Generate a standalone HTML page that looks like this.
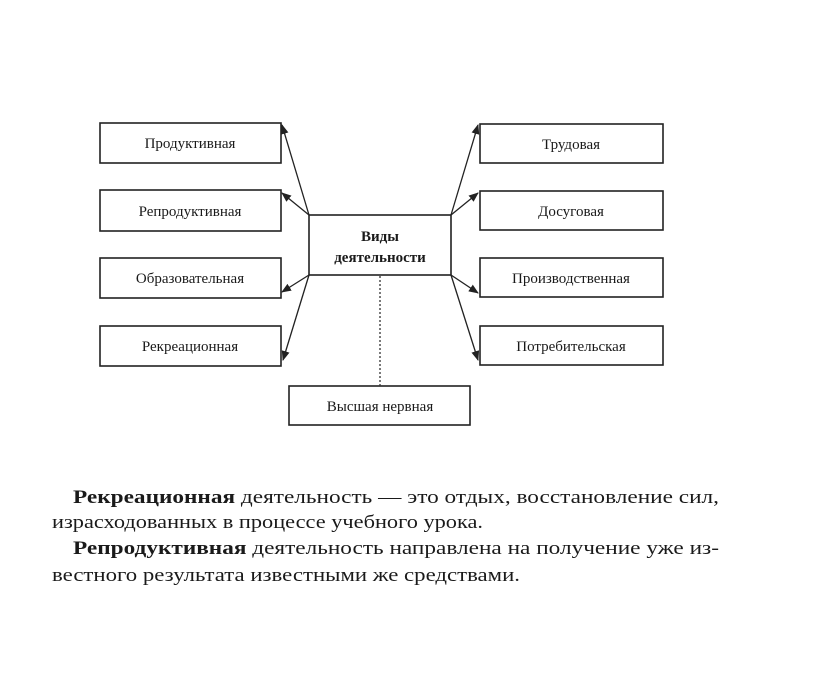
<!DOCTYPE html>
<html><head><meta charset="utf-8"><style>
html,body{margin:0;padding:0;background:#fff;}
svg{display:block}
text{font-family:"Liberation Serif",serif;fill:#1a1a1a}
</style></head><body>
<svg width="816" height="676" viewBox="0 0 816 676" xmlns="http://www.w3.org/2000/svg">
<defs><marker id="a" markerWidth="10" markerHeight="8" refX="9" refY="4" orient="auto" markerUnits="userSpaceOnUse"><path d="M0,0 L10,4 L0,8 Z" fill="#222"/></marker></defs>
<g fill="#fff" stroke="#222" stroke-width="1.6">
<rect x="100" y="123" width="181" height="40"/>
<rect x="100" y="190" width="181" height="41"/>
<rect x="100" y="258" width="181" height="40"/>
<rect x="100" y="326" width="181" height="40"/>
<rect x="480" y="124" width="183" height="39"/>
<rect x="480" y="191" width="183" height="39"/>
<rect x="480" y="258" width="183" height="39"/>
<rect x="480" y="326" width="183" height="39"/>
<rect x="309" y="215" width="142" height="60"/>
<rect x="289" y="386" width="181" height="39"/>
</g>
<g stroke="#222" stroke-width="1.3" fill="none" marker-end="url(#a)">
<line x1="309" y1="215" x2="282" y2="125"/>
<line x1="309" y1="215" x2="282" y2="193"/>
<line x1="309" y1="275" x2="282" y2="292"/>
<line x1="309" y1="275" x2="283" y2="360"/>
<line x1="451" y1="215" x2="478" y2="125"/>
<line x1="451" y1="215" x2="478" y2="193"/>
<line x1="451" y1="275" x2="478" y2="293"/>
<line x1="451" y1="275" x2="478" y2="360"/>
</g>
<line x1="380" y1="276" x2="380" y2="386" stroke="#333" stroke-width="1.3" stroke-dasharray="2,2"/>
<g font-size="15" text-anchor="middle">
<text x="190" y="148">Продуктивная</text>
<text x="190" y="216">Репродуктивная</text>
<text x="190" y="283">Образовательная</text>
<text x="190" y="351">Рекреационная</text>
<text x="571" y="149">Трудовая</text>
<text x="571" y="216">Досуговая</text>
<text x="571" y="283">Производственная</text>
<text x="571" y="351">Потребительская</text>
<text x="380" y="411">Высшая нервная</text>
<text x="380" y="241" font-weight="bold">Виды</text>
<text x="380" y="262" font-weight="bold">деятельности</text>
</g>
<g font-size="18.5">
<text x="73" y="503" textLength="646" lengthAdjust="spacingAndGlyphs"><tspan font-weight="bold">Рекреационная</tspan> деятельность — это отдых, восстановление сил,</text>
<text x="52" y="528" textLength="431" lengthAdjust="spacingAndGlyphs">израсходованных в процессе учебного урока.</text>
<text x="73" y="554" textLength="646" lengthAdjust="spacingAndGlyphs"><tspan font-weight="bold">Репродуктивная</tspan> деятельность направлена на получение уже из-</text>
<text x="52" y="581" textLength="468" lengthAdjust="spacingAndGlyphs">вестного результата известными же средствами.</text>
</g>
</svg>
</body></html>
